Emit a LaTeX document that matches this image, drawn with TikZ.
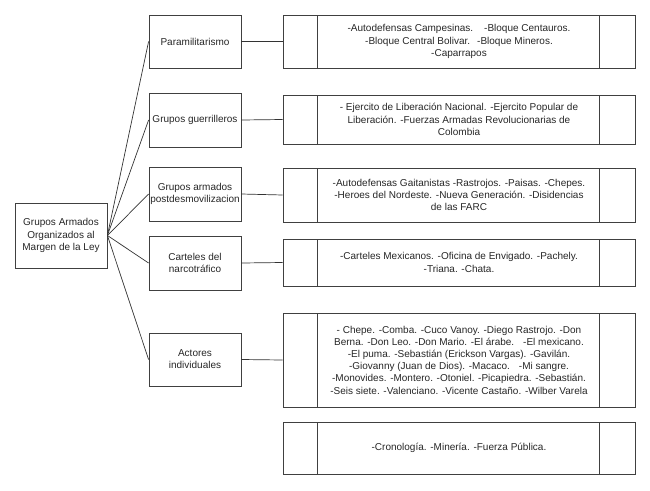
\documentclass[tikz,border=0pt]{standalone}
\usepackage{fontspec}
\setmainfont{Liberation Sans}
\begin{document}
\begin{tikzpicture}[x=1pt,y=-1pt,
  every node/.style={font=\fontsize{10}{12.2}\selectfont, text=black!85},
  boxL/.style={draw=black!75, line width=0.8pt, rectangle, inner sep=0pt, align=center},
  rbox/.style={draw=black!75, line width=0.8pt, rectangle, inner sep=0pt, align=center, minimum width=352pt,
    path picture={\draw[black!75, line width=0.8pt] ([xshift=34pt]path picture bounding box.north west) -- ([xshift=34pt]path picture bounding box.south west);
      \draw[black!75, line width=0.8pt] ([xshift=-36pt]path picture bounding box.north east) -- ([xshift=-36pt]path picture bounding box.south east);}},
  conn/.style={draw=black!80, line width=0.7pt}]
\useasboundingbox (0,0) rectangle (650,490);
\node[boxL, minimum width=92pt, minimum height=65pt] (root) at (61,235.5) {Grupos Armados\\Organizados al\\Margen de la Ley};
\node[boxL, minimum width=92pt, minimum height=53pt] (m1) at (195,41.5) {Paramilitarismo};
\node[boxL, minimum width=92pt, minimum height=54pt] (m2) at (195,120) {Grupos guerrilleros};
\node[boxL, minimum width=92pt, minimum height=54pt] (m3) at (195,194) {Grupos armados\\postdesmovilizacion};
\node[boxL, minimum width=92pt, minimum height=54pt] (m4) at (195,263) {Carteles del\\narcotr\'afico};
\node[boxL, minimum width=92pt, minimum height=53pt] (m5) at (195,359.5) {Actores\\individuales};
\node[rbox, minimum height=53pt] (r1) at (459,41.5) {-Autodefensas Campesinas.\hspace{1.1em}-Bloque Centauros.\\-Bloque Central Bolivar.\hspace{0.7em}-Bloque Mineros.\\-Caparrapos};
\node[rbox, minimum height=49pt] (r2) at (459,119.5) {- Ejercito de Liberaci\'on Nacional. -Ejercito Popular de\\Liberaci\'on. -Fuerzas Armadas Revolucionarias de\\Colombia};
\node[rbox, minimum height=54pt] (r3) at (459,195) {-Autodefensas Gaitanistas -Rastrojos. -Paisas. -Chepes.\\-Heroes del Nordeste. -Nueva Generaci\'on. -Disidencias\\de las FARC};
\node[rbox, minimum height=47pt] (r4) at (459,262.5) {-Carteles Mexicanos. -Oficina de Envigado. -Pachely.\\-Triana. -Chata.};
\node[rbox, minimum height=94pt] (r5) at (459,360) {- Chepe. -Comba. -Cuco Vanoy. -Diego Rastrojo. -Don\\Berna. -Don Leo. -Don Mario. -El \'arabe.\hspace{0.9em}-El mexicano.\\-El puma. -Sebasti\'an (Erickson Vargas). -Gavil\'an.\\-Giovanny (Juan de Dios). -Macaco.\hspace{0.9em}-Mi sangre.\\-Monovides. -Montero. -Otoniel. -Picapiedra. -Sebasti\'an.\\-Seis siete. -Valenciano. -Vicente Casta\~no. -Wilber Varela};
\node[rbox, minimum height=52pt] (r6) at (459,448) {-Cronolog\'ia. -Miner\'ia. -Fuerza P\'ublica.};
\foreach \m in {m1,m2,m3,m4,m5} \draw[conn] (root.east) -- (\m.west);
\draw[conn] (m1.east) -- (r1.west);
\draw[conn] (m2.east) -- (r2.west);
\draw[conn] (m3.east) -- (r3.west);
\draw[conn] (m4.east) -- (r4.west);
\draw[conn] (m5.east) -- (r5.west);
\end{tikzpicture}
\end{document}
